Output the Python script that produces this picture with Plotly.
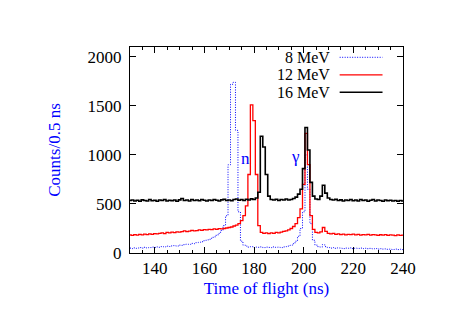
import numpy as np
import plotly.graph_objects as go

# Time of flight bins (ns)
tof = list(range(130, 241))

counts_8mev = [
    50, 45, 52, 48, 55, 50, 58, 52, 55, 60,
    57, 62, 58, 65, 62, 70, 66, 72, 75, 70,
    80, 78, 85, 90, 88, 98, 95, 105, 110, 115,
    125, 130, 140, 150, 165, 180, 200, 230, 280, 380,
    900, 1720, 1740, 1250, 420, 120, 80, 70, 60, 65,
    55, 60, 58, 62, 55, 60, 57, 55, 62, 58,
    60, 55, 62, 65, 70, 80, 95, 120, 170, 250,
    420, 1000, 650, 300, 130, 80, 65, 60, 85, 65,
    55, 50, 55, 48, 52, 50, 45, 50, 48, 52,
    45, 50, 47, 50, 45, 48, 44, 47, 42, 45,
    40, 44, 40, 42, 38, 40, 36, 40, 35, 38,
    35,
]

counts_12mev = [
    185, 180, 188, 183, 190, 185, 192, 188, 195, 190,
    198, 195, 200, 205, 198, 210, 205, 212, 208, 215,
    212, 218, 225, 218, 222, 230, 225, 228, 235, 230,
    238, 235, 240, 238, 245, 240, 248, 245, 250, 255,
    260, 265, 275, 285, 300, 330, 380, 480, 800, 1510,
    1350, 800, 280, 210, 200, 205, 198, 205, 200, 210,
    205, 212, 220, 225, 235, 250, 270, 300, 360, 450,
    700, 1220, 900, 380, 240, 210, 205, 215, 260, 220,
    200, 195, 200, 190, 195, 188, 192, 185, 190, 187,
    192, 185, 190, 183, 188, 185, 190, 182, 188, 185,
    180, 186, 182, 188, 180, 185, 182, 178, 184, 180,
    182,
]

counts_16mev = [
    535, 540, 530, 538, 528, 542, 535, 530, 545, 532,
    538, 528, 540, 535, 545, 530, 538, 532, 540, 528,
    542, 555, 535, 540, 530, 545, 535, 540, 532, 545,
    538, 530, 540, 535, 545, 538, 530, 542, 548, 535,
    540, 532, 545, 550, 538, 545, 535, 548, 540, 552,
    545, 560, 620, 1190, 1080, 800, 580, 545, 540, 548,
    535, 545, 540, 550, 540, 545, 555, 570, 600, 650,
    860, 1280, 1050, 720, 580, 550, 545, 580, 690, 610,
    560, 545, 540, 548, 535, 542, 530, 540, 535, 545,
    532, 540, 530, 545, 535, 540, 528, 538, 545, 530,
    540, 535, 528, 540, 532, 538, 530, 535, 528, 535,
    530,
]

series_names = ["8 MeV", "12 MeV", "16 MeV"]
x_ticks = [140, 160, 180, 200, 220, 240]
y_ticks = [0, 500, 1000, 1500, 2000]

SERIF = "Liberation Serif"
BLUE = "#0000ff"
FS = 17

fig = go.Figure()
styles = [
    dict(color=BLUE, width=1, dash="1px,1.5px"),
    dict(color="#ff0000", width=1.3),
    dict(color="#000000", width=1.6),
]
for name, ys, st in zip(series_names, [counts_8mev, counts_12mev, counts_16mev], styles):
    fig.add_trace(go.Scatter(x=tof, y=ys, mode="lines", name=name,
                             line=dict(shape="hvh", **st), showlegend=False))

# Manual legend (text right-aligned, sample to the right, like gnuplot)
leg_y = [0.95, 0.865, 0.78]
for name, st, yy in zip(series_names, styles, leg_y):
    fig.add_annotation(xref="paper", yref="paper", x=0.735, y=yy, text=name,
                       showarrow=False, xanchor="right", yanchor="middle", borderpad=0,
                       font=dict(family=SERIF, size=16, color="black"))
    fig.add_shape(type="line", xref="paper", yref="paper", x0=0.768, x1=0.925,
                  y0=yy, y1=yy, line=st)

# Peak labels
fig.add_annotation(x=176.6, y=965, text="n", showarrow=False,
                   font=dict(family=SERIF, size=FS, color=BLUE))
fig.add_annotation(x=196.8, y=985, text="γ", showarrow=False,
                   font=dict(family=SERIF, size=FS, color=BLUE))

axis_common = dict(showgrid=False, zeroline=False, showline=True, linecolor="black",
                   linewidth=1, mirror="ticks", ticks="inside", ticklen=6,
                   tickcolor="black", automargin=False,
                   tickfont=dict(family=SERIF, size=FS, color="black"))

fig.update_xaxes(range=[130, 240], tickvals=x_ticks,
                 minor=dict(dtick=5, tick0=130, ticks="inside", ticklen=3, tickcolor="black"),
                 title=dict(text="Time of flight (ns)", font=dict(family=SERIF, size=FS, color=BLUE),
                            standoff=4),
                 **axis_common)
fig.update_yaxes(range=[0, 2100], tickvals=y_ticks, ticklabelstandoff=4,
                 title=dict(text="Counts/0.5 ns", font=dict(family=SERIF, size=FS, color=BLUE),
                            standoff=22),
                 **axis_common)

# page body has an 8px margin, so the figure is offset; compensate in margins
fig.update_layout(width=460, height=323, plot_bgcolor="white", paper_bgcolor="white",
                  margin=dict(l=122, r=65, t=39, b=78), font=dict(family=SERIF))

fig.write_html("out.html")
